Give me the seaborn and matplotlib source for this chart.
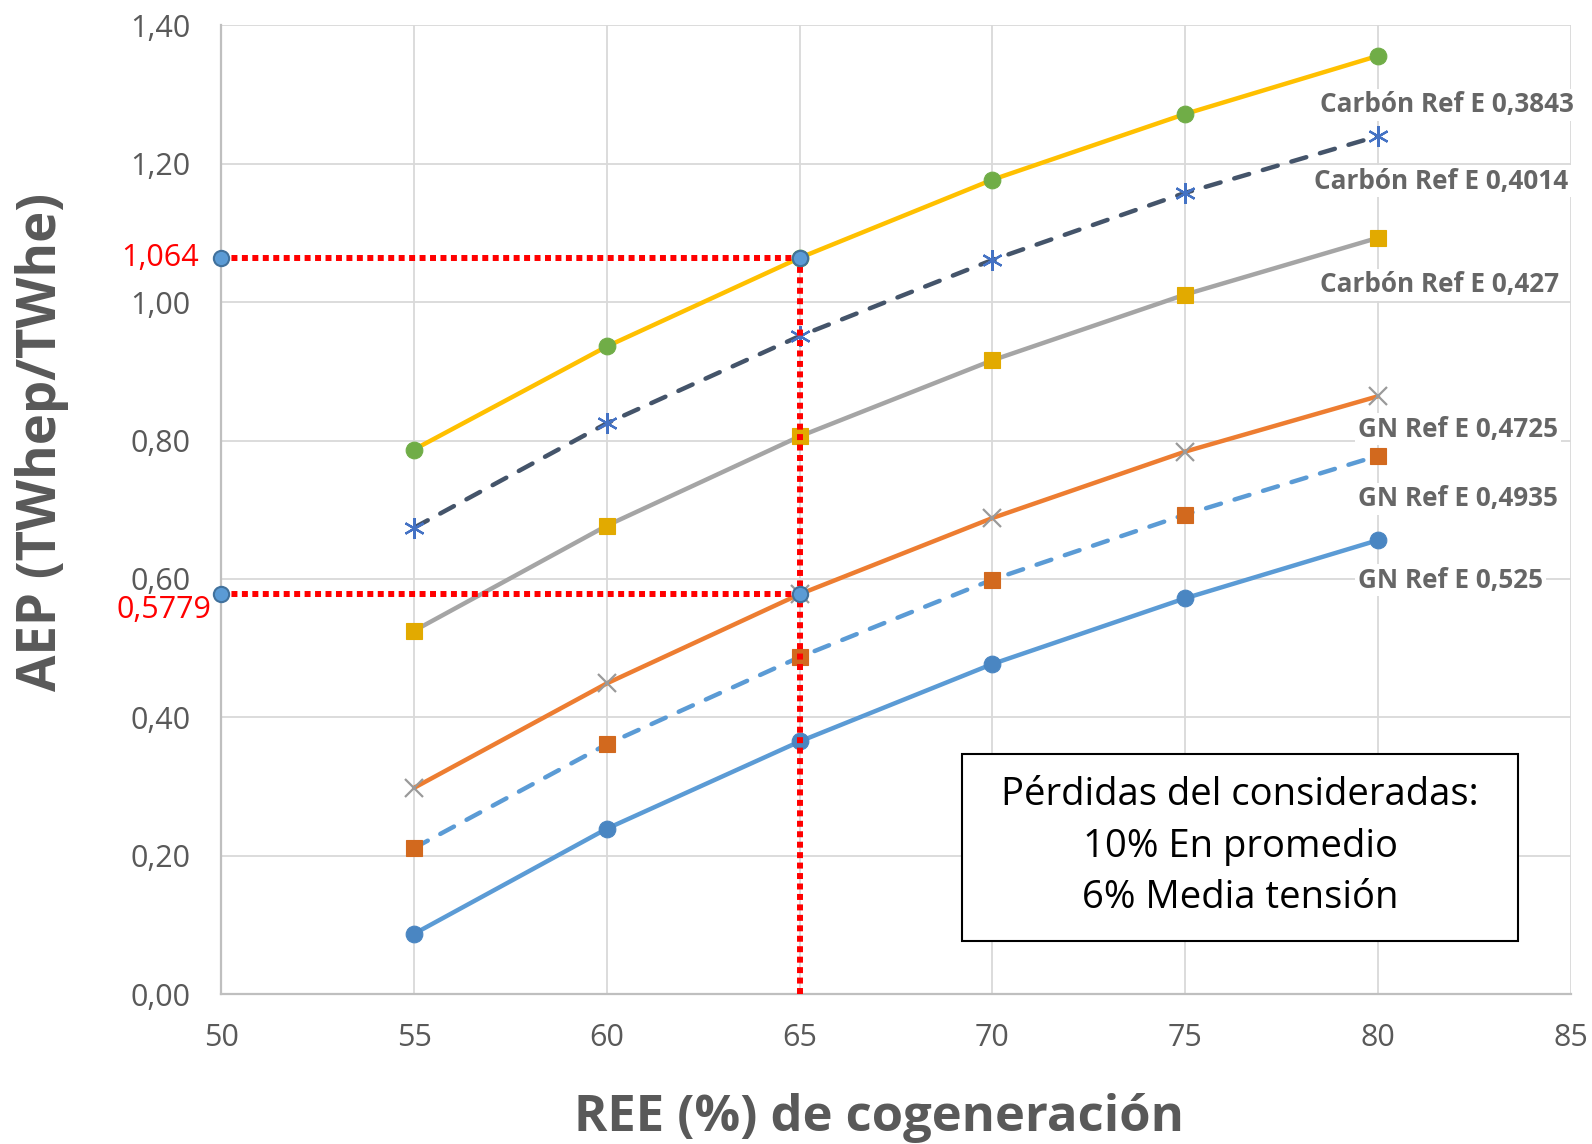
import numpy as np
import pandas as pd
import matplotlib
matplotlib.use("Agg")
import matplotlib.pyplot as plt
from matplotlib.ticker import FuncFormatter
from matplotlib.patches import Rectangle
import seaborn as sns

# data
ree = [55, 60, 65, 70, 75, 80]
carbon_3843 = [0.787, 0.936, 1.064, 1.177, 1.272, 1.356]
carbon_4014 = [0.674, 0.825, 0.951, 1.061, 1.158, 1.240]
carbon_427 = [0.525, 0.677, 0.806, 0.916, 1.011, 1.093]
gn_4725 = [0.298, 0.449, 0.5779, 0.688, 0.784, 0.864]
gn_4935 = [0.211, 0.361, 0.487, 0.599, 0.693, 0.778]
gn_525 = [0.087, 0.239, 0.365, 0.477, 0.572, 0.656]

series_names = ["Carbón Ref E 0,3843", "Carbón Ref E 0,4014", "Carbón Ref E 0,427",
                "GN Ref E 0,4725", "GN Ref E 0,4935", "GN Ref E 0,525"]
series_values = [carbon_3843, carbon_4014, carbon_427, gn_4725, gn_4935, gn_525]

ref_x = 65
ref_values = [1.064, 0.5779]
ref_labels = ["1,064", "0,5779"]

x_ticks = [50, 55, 60, 65, 70, 75, 80, 85]
y_ticks = [0.0, 0.2, 0.4, 0.6, 0.8, 1.0, 1.2, 1.4]

note_lines = ["Pérdidas del consideradas:", "10% En promedio", "6% Media tensión"]

sns.set_theme(style="white")
plt.rcParams["font.family"] = ["Open Sans", "DejaVu Sans"]

# line colour, marker, marker colour, dashed, marker size, label offset (px)
styles = [
    ("#FFC000", "o", "#70AD47", False, 12, (-58, -49)),
    ("#44546A", (6, 2, 0), "#4472C4", True, 15, (-64, -45)),
    ("#A5A5A5", "s", "#E2AA00", False, 12, (-58, -47)),
    ("#ED7D31", "x", "#9A9A9A", False, 13, (-20, -33)),
    ("#5B9BD5", "s", "#D2691E", True, 12, (-20, -43)),
    ("#5B9BD5", "o", "#4A86C2", False, 12, (-20, -40)),
]

fig = plt.figure(figsize=(15.92, 11.44), dpi=100)
ax = fig.add_axes([0.139, 0.1311, 0.8477, 0.8467])

for name, vals, st in zip(series_names, series_values, styles):
    lc, mk, mc, dashed, ms, off = st
    df = pd.DataFrame({"REE": ree, "AEP": vals})
    thin = mk == "x" or isinstance(mk, tuple)
    sns.lineplot(data=df, x="REE", y="AEP", ax=ax, color=lc, linewidth=3.2,
                 marker=mk, markersize=ms, markerfacecolor=mc,
                 markeredgecolor=mc, markeredgewidth=1.6 if thin else 0.8,
                 zorder=3)
    line = ax.lines[-1]
    if dashed:
        line.set_dashes((3.5, 3.2))
        line.set_dash_capstyle("round")
    ax.annotate(name, xy=(ree[-1], vals[-1]), xytext=off, textcoords="offset pixels",
                ha="left", va="center", fontsize=18.8, fontweight="bold", color="#666666",
                bbox=dict(boxstyle="square,pad=0.1", fc="white", ec="none"), zorder=4)

# red reference lines
red_dots = dict(color="#FF0000", linewidth=4.3, dashes=(1, 0.75), dash_capstyle="butt", zorder=5)
ax.plot([x_ticks[0], ref_x], [ref_values[0], ref_values[0]], **red_dots)
ax.plot([x_ticks[0], ref_x], [ref_values[1], ref_values[1]], **red_dots)
ax.plot([ref_x, ref_x], [0, ref_values[0]], **red_dots)
for v in ref_values:
    ax.plot([x_ticks[0], ref_x], [v, v], linestyle="none", marker="o", markersize=11,
            markerfacecolor="#5B9BD5", markeredgecolor="#41719C", markeredgewidth=1.5,
            zorder=6, clip_on=False)
ax.annotate(ref_labels[0], xy=(x_ticks[0], ref_values[0]), xytext=(-22, 0),
            textcoords="offset pixels", ha="right", va="center", fontsize=22, color="#FF0000")
ax.annotate(ref_labels[1], xy=(x_ticks[0], ref_values[1]), xytext=(-10, -16),
            textcoords="offset pixels", ha="right", va="center", fontsize=22, color="#FF0000")

ax.set_xlim(x_ticks[0], x_ticks[-1])
ax.set_ylim(y_ticks[0], y_ticks[-1])
ax.set_xticks(x_ticks)
ax.set_yticks(y_ticks)
ax.yaxis.set_major_formatter(FuncFormatter(lambda v, p: f"{v:.2f}".replace(".", ",")))
ax.tick_params(axis="x", labelsize=22, labelcolor="#595959", length=0, pad=21)
ax.tick_params(axis="y", labelsize=22, labelcolor="#595959", length=0, pad=22)
ax.grid(True, color="#D9D9D9", linewidth=1.3)
ax.set_axisbelow(True)
for s in ["top", "right"]:
    ax.spines[s].set_visible(False)
for s in ["left", "bottom"]:
    ax.spines[s].set_color("#BFBFBF")
    ax.spines[s].set_linewidth(1.6)

ax.set_xlabel("REE (%) de cogeneración", fontsize=36.5, fontweight="bold", color="#595959")
ax.set_ylabel("AEP (TWhep/TWhe)", fontsize=38, fontweight="bold", color="#595959")
ax.xaxis.set_label_coords(0.487, -0.102)
ax.yaxis.set_label_coords(-0.113, 0.57)

# note box
ax.add_patch(Rectangle((0.549, 0.0547), 0.412, 0.1931, transform=ax.transAxes,
                       fc="white", ec="black", lw=1.5, zorder=7))
for txt, yy in zip(note_lines, [0.2055, 0.1518, 0.0996]):
    ax.text(0.755, yy, txt, transform=ax.transAxes, ha="center", va="center",
            fontsize=27.5, color="black", zorder=8)

fig.savefig("out.png", dpi=100)
